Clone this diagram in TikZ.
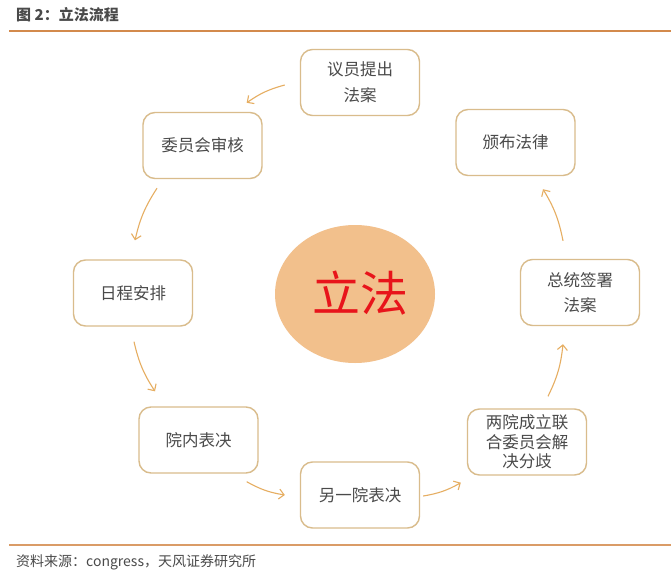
\documentclass[tikz,border=0pt]{standalone}
\usepackage{fontspec}
\newfontfamily\cjk{Noto Sans CJK SC}
\usetikzlibrary{arrows.meta,calc,shapes.geometric}
\definecolor{boxline}{HTML}{D9BC8C}
\definecolor{arrowc}{HTML}{E6AE62}
\definecolor{rule}{HTML}{D38A4C}
\definecolor{ellfill}{HTML}{F2C08C}
\definecolor{txt}{HTML}{4A4A4A}
\definecolor{redt}{HTML}{E8141B}
\tikzset{
  stepbox/.style={draw=boxline, line width=1.4pt, rounded corners=12pt, fill=white,
    minimum width=119pt, minimum height=66pt, align=center, text=txt,
    font=\cjk\fontsize{16.5}{26}\selectfont, inner sep=2pt},
  flow/.style={draw=arrowc, line width=1.1pt, -{Straight Barb[length=5pt,width=10pt,line width=1.1pt]}, bend right=10},
}
\begin{document}
\begin{tikzpicture}[x=1pt,y=-1pt]
\useasboundingbox (0,0) rectangle (671,578);
\fill[white] (0,0) rectangle (671,578);
% title
\node[anchor=west, inner sep=0, text=txt, font=\cjk\bfseries\fontsize{15}{15}\selectfont] (title) at (16,15) {图 2：立法流程};
\draw[rule, line width=2pt] (9,31) -- (671,31);
% center ellipse
\node[ellipse, fill=ellfill, minimum width=160pt, minimum height=138pt, inner sep=0] (center) at (355,294) {};
\node[text=redt, font=\cjk\fontsize{48}{48}\selectfont, inner sep=0] (centertext) at (360,293) {立法};
% boxes
\node[stepbox] (b1) at (360,82.5) {议员提出\\法案};
\node[stepbox] (b2) at (202.5,145.5) {委员会审核};
\node[stepbox] (b3) at (133,293) {日程安排};
\node[stepbox] (b4) at (198.5,440) {院内表决};
\node[stepbox] (b5) at (360,495) {另一院表决};
\node[stepbox, font=\cjk\fontsize{16.5}{19.5}\selectfont] (b6) at (527,442) {两院成立联\\合委员会解\\决分歧};
\node[stepbox, font=\cjk\fontsize{16.5}{25}\selectfont] (b7) at (580,292.5) {总统签署\\法案};
\node[stepbox] (b8) at (515.5,142.5) {颁布法律};
% arrows
\draw[flow] ($(b1.west)+(-15,2.5)$) to ($(b2.north east)+(-16,-9)$);
\draw[flow] ($(b2.south)+(-45.5,9)$) to ($(b3.north)+(2,-19)$);
\draw[flow] ($(b3.south)+(1,15)$) to ($(b4.north)+(-43.5,-15)$);
\draw[flow] ($(b4.south east)+(-12,8)$) to ($(b5.west)+(-15,0)$);
\draw[flow] ($(b5.east)+(3,1)$) to ($(b6.south west)+(-6,7)$);
\draw[flow] ($(b6.north)+(21,-12)$) to ($(b7.south)+(-17,18)$);
\draw[flow] ($(b7.north)+(-17,-18)$) to ($(b8.south)+(27.5,13)$);
% source
\draw[rule!85!white, line width=1.5pt] (9,545) -- (671,545);
\node[anchor=west, inner sep=0, text=txt, font=\cjk\fontsize{14}{14}\selectfont] (source) at (16,562) {资料来源：congress，天风证券研究所};
\end{tikzpicture}
\end{document}
